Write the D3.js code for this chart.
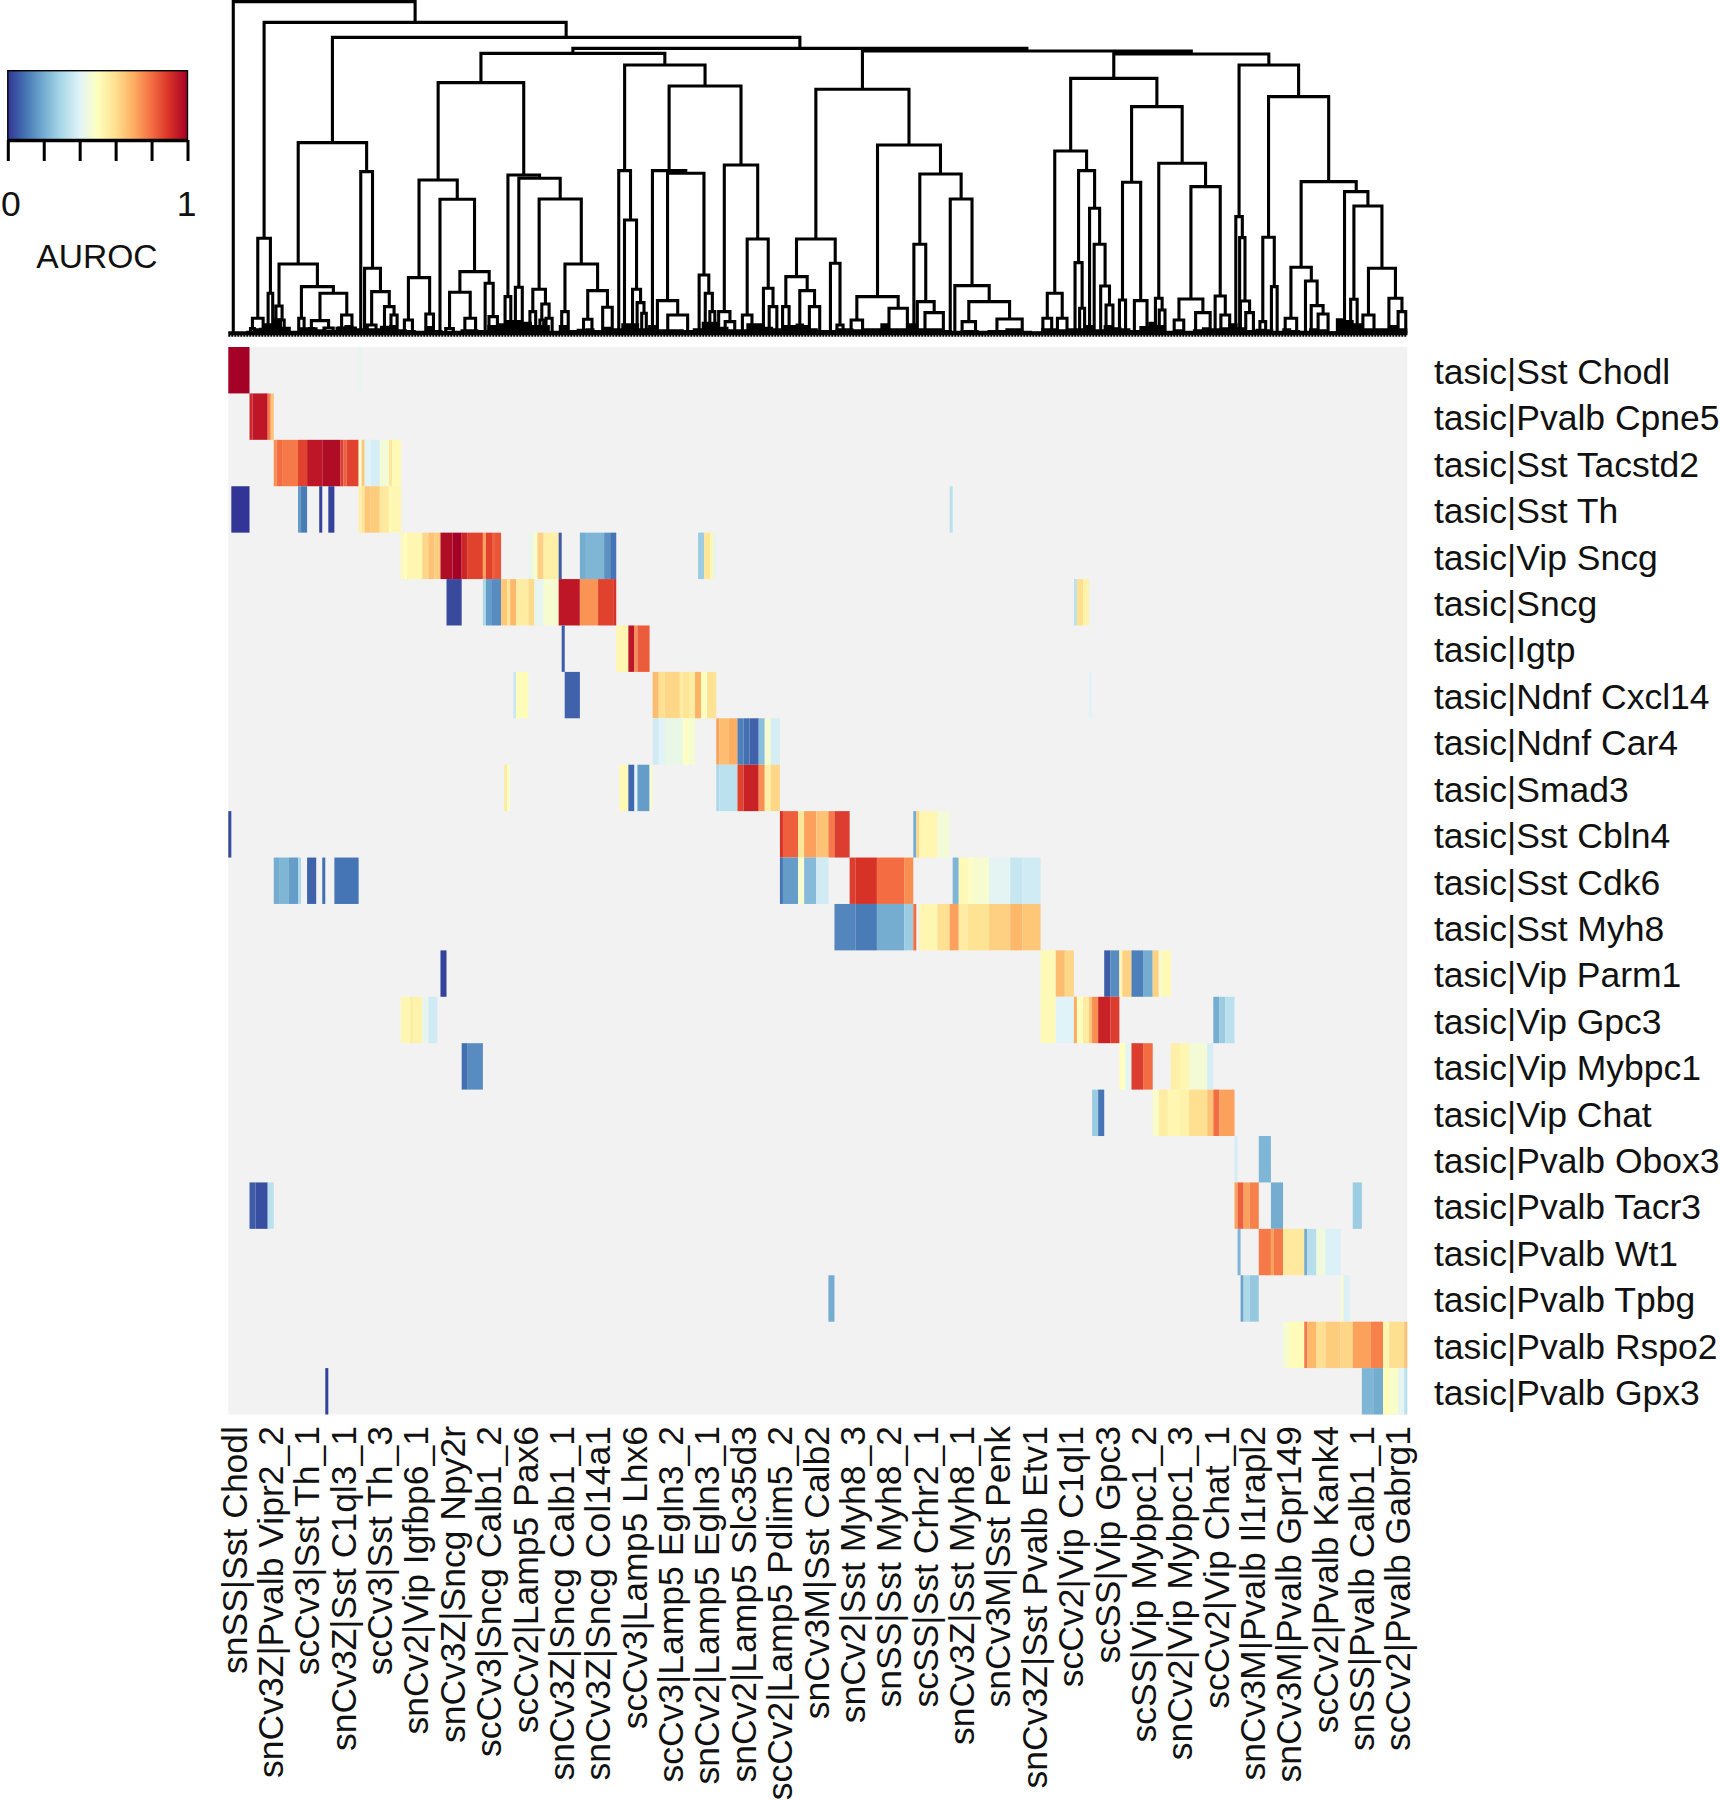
<!DOCTYPE html>
<html>
<head>
<meta charset="utf-8">
<script src="https://cdn.jsdelivr.net/npm/d3@7"></script>
<style>
  body { margin: 0; background: #fff; }
  text { font-family: "Liberation Sans", Arial, sans-serif; fill: #111; }
</style>
</head>
<body>
<svg id="chart" width="1720" height="1800"></svg>
<script>
// row and column names
const rowLabels = ["Sst Chodl","Pvalb Cpne5","Sst Tacstd2","Sst Th","Vip Sncg","Sncg","Igtp","Ndnf Cxcl14","Ndnf Car4","Smad3","Sst Cbln4","Sst Cdk6","Sst Myh8","Vip Parm1","Vip Gpc3","Vip Mybpc1","Vip Chat","Pvalb Obox3","Pvalb Tacr3","Pvalb Wt1","Pvalb Tpbg","Pvalb Rspo2","Pvalb Gpx3"].map(d => "tasic|" + d);
const colLabels = ["snSS|Sst Chodl","snCv3Z|Pvalb Vipr2_2","scCv3|Sst Th_1","snCv3Z|Sst C1ql3_1","scCv3|Sst Th_3","snCv2|Vip Igfbp6_1","snCv3Z|Sncg Npy2r","scCv3|Sncg Calb1_2","scCv2|Lamp5 Pax6","snCv3Z|Sncg Calb1_1","snCv3Z|Sncg Col14a1","scCv3|Lamp5 Lhx6","scCv3|Lamp5 Egln3_2","snCv2|Lamp5 Egln3_1","snCv2|Lamp5 Slc35d3","scCv2|Lamp5 Pdlim5_2","snCv3M|Sst Calb2","snCv2|Sst Myh8_3","snSS|Sst Myh8_2","scSS|Sst Crhr2_1","snCv3Z|Sst Myh8_1","snCv3M|Sst Penk","snCv3Z|Sst Pvalb Etv1","scCv2|Vip C1ql1","scSS|Vip Gpc3","scSS|Vip Mybpc1_2","snCv2|Vip Mybpc1_3","scCv2|Vip Chat_1","snCv3M|Pvalb Il1rapl2","snCv3M|Pvalb Gpr149","scCv2|Pvalb Kank4","snSS|Pvalb Calb1_1","scCv2|Pvalb Gabrg1"];
const colLabelPositions = [2,14,26,38,50,62,74,86,98,110,122,134,146,158,170,182,194,206,218,230,242,254,266,278,290,302,314,326,338,350,362,374,386];
const nCols = 389;

// AUROC stripes per row: [first column, end column, value], everything else is NA
const sstChodl = [[0,7,1],[43,44,.42]];
const pvalbCpne5 = [[7,8,.92],[8,13,.95],[13,14,.78],[14,15,.66]];
const sstTacstd2 = [[15,16,.75],[16,18,.8],[18,23,.78],[23,26,.87],[26,31,.95],[31,37,.98],[37,38,.88],[38,39,.82],[39,43,.87],[43,44,.47],[44,45,.65],[45,47,.4],[47,50,.38],[50,53,.46],[53,54,.58],[54,57,.52]];
const sstTh = [[1,7,0],[23,24,.17],[24,26,.11],[30,31,.02],[33,35,.02],[43,44,.55],[44,45,.58],[45,47,.65],[47,50,.64],[50,53,.57],[53,54,.52],[54,57,.53],[238,239,.33]];
const vipSncg = [[57,58,.52],[58,59,.5],[59,64,.53],[64,66,.62],[66,68,.66],[68,70,.64],[70,74,.98],[74,77,1],[77,79,.92],[79,84,.87],[84,85,.72],[85,87,.87],[87,88,.82],[88,90,.84],[99,100,.42],[100,101,.45],[101,102,.48],[102,104,.63],[104,109,.55],[109,110,.06],[116,118,.2],[118,124,.22],[124,126,.15],[126,128,.1],[155,157,.27],[157,159,.58],[159,160,.53],[160,161,.42]];
const sncg = [[72,77,.03],[84,85,.3],[85,87,.17],[87,90,.14],[90,92,.65],[92,93,.58],[93,95,.68],[95,99,.56],[99,101,.61],[101,104,.42],[104,109,.47],[109,116,.95],[116,122,.74],[122,127,.87],[127,128,.9],[279,280,.33],[280,282,.6],[282,284,.54]];
const igtp = [[110,111,.06],[128,132,.53],[132,134,.95],[134,135,.75],[135,139,.83]];
const ndnfCxcl14 = [[94,95,.36],[95,99,.51],[111,116,.07],[140,142,.67],[142,144,.6],[144,149,.62],[149,150,.56],[150,152,.58],[152,154,.56],[154,156,.69],[156,158,.5],[158,161,.59],[284,285,.4]];
const ndnfCar4 = [[140,142,.37],[142,144,.4],[144,150,.43],[150,152,.49],[152,154,.47],[161,162,.72],[162,165,.67],[165,168,.7],[168,170,.12],[170,172,.09],[172,175,.07],[175,177,.24],[177,179,.47],[179,182,.38]];
const smad3 = [[91,92,.56],[92,93,.48],[129,132,.52],[132,134,.08],[134,135,.4],[135,139,.17],[139,140,.47],[161,162,.3],[162,168,.33],[168,170,.87],[170,175,.93],[175,177,.75],[177,179,.55],[179,182,.62]];
const sstCbln4 = [[0,1,.03],[182,183,.9],[183,188,.82],[188,190,.58],[190,194,.72],[194,198,.66],[198,200,.78],[200,205,.88],[226,227,.2],[227,228,.62],[228,234,.53],[234,238,.46]];
const sstCdk6 = [[15,17,.2],[17,20,.22],[20,23,.17],[23,24,.3],[26,29,.07],[31,32,.09],[35,43,.1],[182,183,.1],[183,188,.17],[188,190,.47],[190,194,.23],[194,198,.37],[205,207,.88],[207,214,.9],[214,223,.8],[223,226,.75],[239,241,.22],[241,244,.52],[244,246,.49],[246,251,.47],[251,258,.41],[258,262,.35],[262,268,.37]];
const sstMyh8 = [[200,207,.13],[207,214,.11],[214,223,.2],[223,226,.27],[226,227,.8],[228,234,.53],[234,238,.6],[238,241,.72],[241,244,.56],[244,251,.59],[251,258,.63],[258,262,.68],[262,268,.65]];
const vipParm1 = [[70,72,.02],[268,273,.52],[273,276,.67],[276,279,.62],[289,291,.06],[291,294,.14],[294,295,.53],[295,298,.63],[298,302,.12],[302,305,.2],[305,307,.63],[307,308,.47],[308,311,.52]];
const vipGpc3 = [[57,60,.53],[60,61,.56],[61,64,.54],[64,66,.42],[66,69,.37],[268,273,.52],[273,279,.4],[279,280,.7],[280,282,.5],[282,284,.56],[284,285,.65],[285,287,.75],[287,291,.93],[291,294,.88],[325,327,.2],[327,329,.27],[329,332,.33]];
const vipMybpc1 = [[77,79,.09],[79,84,.14],[294,296,.5],[296,298,.41],[298,302,.88],[302,305,.8],[311,314,.55],[314,317,.53],[317,323,.46],[323,325,.38]];
const vipChat = [[285,287,.27],[287,289,.1],[305,307,.48],[307,310,.56],[310,314,.53],[314,317,.54],[317,323,.6],[323,325,.66],[325,327,.8],[327,332,.72]];
const pvalbObox3 = [[332,333,.38],[340,344,.22]];
const pvalbTacr3 = [[7,9,.06],[9,13,.04],[13,15,.33],[332,333,.72],[333,335,.82],[335,337,.72],[337,340,.77],[344,348,.2],[371,374,.27]];
const pvalbWt1 = [[333,334,.22],[340,344,.78],[344,345,.72],[345,348,.78],[348,355,.57],[355,356,.2],[356,359,.32],[359,362,.45],[362,367,.39]];
const pvalbTpbg = [[198,200,.2],[334,335,.18],[335,337,.3],[337,340,.26],[367,368,.47],[368,370,.39]];
const pvalbRspo2 = [[348,350,.47],[350,355,.51],[355,356,.78],[356,359,.68],[359,362,.6],[362,367,.64],[367,371,.62],[371,377,.72],[377,381,.77],[381,383,.53],[383,388,.6],[388,389,.66]];
const pvalbGpx3 = [[32,33,.02],[374,378,.22],[378,381,.2],[381,383,.51],[383,386,.48],[386,388,.42],[388,389,.33]];
const heatRows = [sstChodl,pvalbCpne5,sstTacstd2,sstTh,vipSncg,sncg,igtp,ndnfCxcl14,ndnfCar4,smad3,sstCbln4,sstCdk6,sstMyh8,vipParm1,vipGpc3,vipMybpc1,vipChat,pvalbObox3,pvalbTacr3,pvalbWt1,pvalbTpbg,pvalbRspo2,pvalbGpx3];

// dendrogram merges: [height, left, right], a bare number is a leaf position
const treeA = [285,[45,[14,80,90],[12,106,120]],[120,126,138]];
const treeB = [572,
  [208,[82,[30,143,150],[40,157,168]],[140,[45,206,220],[120,[38,[14,234,244],[16,272,296]],[55,[16,310,326],[16,336,354]]]]],
  [485,368,[195,378,[125,[25,385,408],[80,[18,422,438],[55,447,463]]]]]];
const treeC1 = [752,
  [460,[167,[40,482,503],[58,538,558]],[402,575,[185,[123,[14,590,610],[45,640,668]],[150,693,[50,703,725]]]]],
  [475,[110,745,760],[465,[138,772,790],[403,[132,[65,810,825],[88,[40,836,846],[45,852,868]]],[208,[65,893,910],[128,[42,950,972],[78,1000,1025]]]]]]];
const treeC2 = [805,
  [488,1042,[340,1057,[132,1078,[92,1090,[60,1102,1114]]]]],
  [742,
    [488,1130,[480,[98,1143,[55,1170,1222]],[175,1252,[120,1268,[65,1280,1293]]]]],
    [505,[65,1303,[35,1320,1345]],[283,[55,1365,1390],[135,1420,[80,1435,1455]]]]]];
const treeD = [732,
  [283,[170,[80,1470,1487],[128,[25,1508,1522],[80,1540,1567]]],[210,1595,[25,1612,1628]]],
  [565,[110,[40,1649,1679],[75,1748,1796]],[478,[267,1813,[95,1822,[62,1842,1890]]],[403,1908,[143,1920,[95,[35,1939,1974],[43,2030,2096]]]]]]];
const treeE = [765,
  [547,[120,[45,2150,2173],[45,2188,2213]],[488,[212,2234,[75,2246,2259]],[375,2272,[267,2284,[142,2301,[85,2315,2333]]]]]],
  [680,[453,[100,2350,2366],[98,2389,2422]],[510,[105,2444,[70,2454,2469]],[440,[103,[40,2493,2518],[62,2549,2587]],[112,2600,[55,2615,2638]]]]]];
const treeF = [805,
  [350,2654,[287,2664,[97,2666,[62,2680,2700]]]],
  [710,[288,[35,2717,2732],[140,2747,2762]],[455,[198,[45,2783,2813],[157,2836,[83,2851,[58,2869,2895]]]],[425,2938,[382,[102,2954,2971],[195,[55,2986,3015],[105,3054,[65,3078,3098]]]]]]]];
const treeRoot = [995,35,[933,treeA,[888,treeB,[855,[840,treeC1,treeC2],[847,treeD,[838,treeE,treeF]]]]]];

// height of the packed tiny merges along the foot of the tree, left to right
const footHeights = [3,3,8,15,30,45,20,8,18,18,12,10,20,25,15,15,15,20,25,12,10,8,22,10,6,8,12,12,10,25,30,40,40,35,25,25,8,25,10,14,15,10,20,15,
  30,30,15,25,12,12,12,10,15,35,35,20,12,12,30,30,20,15,25,25,25,15,10,10,15,15,12,15,15,30,15,15,30,15,15,15,10,8,10,10,8,10,10,
  15,15,8,5,15,15,12,15,15,25,12,25,18,15,10,22,35,25,8,12,8,12,18,15,18,30,18,10,14,12,8,15,10,8,15,12,6,45,40,30,15,15,15,25,15];

const legendTicks = [0,.2,.4,.6,.8,1];
const colorStops = d3.schemeRdYlBu[11].slice().reverse();

// General Variables
let chart = d3.select("#chart");
let heat = {left: 228.3, right: 1407.3, top: 347, bottom: 1414.5};

// colour scale, blue through yellow to red
let color = d3.scaleLinear()
    .domain(colorStops.map((d, i) => i / 10))
    .range(colorStops)
    .interpolate(d3.interpolateRgb);

// position scales
let x = d3.scaleLinear().domain([0, nCols]).range([heat.left, heat.right]);
let y = d3.scaleBand().domain(rowLabels).range([heat.top, heat.bottom]);

// the source is a slightly soft raster
let defs = chart.append("defs");
defs.append("filter")
    .attr("id", "soft")
    .attr("x", "-2%").attr("y", "-2%")
    .attr("width", "104%").attr("height", "104%")
    .append("feGaussianBlur")
    .attr("stdDeviation", "0.7 0.4");

// heatmap background (NA cells)
chart.append("rect")
    .attr("x", x(0))
    .attr("y", heat.top)
    .attr("width", x(nCols) - x(0))
    .attr("height", heat.bottom - heat.top)
    .attr("fill", "#f2f2f2");

// heatmap stripes
chart.append("g")
    .attr("filter", "url(#soft)")
    .selectAll(".heatrow")
    .data(heatRows)
    .enter()
    .append("g")
    .attr("class", "heatrow")
    .attr("transform", (d, i) => "translate(0," + y(rowLabels[i]) + ")")
    .selectAll("rect")
    .data(d => d)
    .enter()
    .append("rect")
    .attr("x", d => x(d[0]))
    .attr("width", d => x(d[1]) - x(d[0]))
    .attr("height", y.bandwidth())
    .attr("fill", d => color(d[2]));

// row labels
let rowAxis = d3.axisRight(y).tickSize(0).tickPadding(0);
let rowAxisGroup = chart.append("g")
    .attr("transform", "translate(1434,1)")
    .call(rowAxis);
rowAxisGroup.select(".domain").remove();
rowAxisGroup.selectAll("text")
    .style("font-size", "35.5px")
    .attr("x", 0)
    .attr("dy", "0.36em");

// column labels
let colAxis = d3.axisBottom(x)
    .tickValues(colLabelPositions)
    .tickSize(0)
    .tickFormat((d, i) => colLabels[i]);
let colAxisGroup = chart.append("g")
    .attr("transform", "translate(-1,1426)")
    .call(colAxis);
colAxisGroup.select(".domain").remove();
colAxisGroup.selectAll("text")
    .style("font-size", "35.5px")
    .attr("text-anchor", "end")
    .attr("transform", "rotate(-90)")
    .attr("x", 0)
    .attr("y", 0)
    .attr("dy", "0.36em");

// dendrogram, x of a merge is the midpoint of its two children
let treeX = d3.scaleLinear().domain([22, 3102]).range([heat.left, heat.right]);
let treeY = d3.scaleLinear().domain([0, 1000]).range([333.3, 0]);
let root = d3.hierarchy(treeRoot, d => Array.isArray(d) ? d.slice(1) : null);
root.eachAfter(function(n) {
    if (n.children) {
        n.pos = (n.children[0].pos + n.children[1].pos) / 2;
        n.h = n.data[0];
    } else {
        n.pos = n.data;
        n.h = 0;
    }
});

let treePath = d3.path();
root.each(function(n) {
    if (!n.children) return;
    let [a, b] = n.children;
    treePath.moveTo(treeX(a.pos), treeY(a.h));
    treePath.lineTo(treeX(a.pos), treeY(n.h));
    treePath.lineTo(treeX(b.pos), treeY(n.h));
    treePath.lineTo(treeX(b.pos), treeY(b.h));
});
chart.append("path")
    .attr("d", treePath.toString())
    .attr("fill", "none")
    .attr("stroke", "#000")
    .attr("stroke-width", 3.1)
    .attr("stroke-linecap", "square");

// packed tiny merges at the foot of the tree
let footX = d3.scaleLinear().domain([0, footHeights.length]).range([heat.left, heat.right]);
chart.append("path")
    .datum(footHeights.concat(footHeights[footHeights.length - 1]))
    .attr("d", d3.area()
        .x((d, i) => footX(i))
        .y0(treeY(0))
        .y1(d => treeY(d))
        .curve(d3.curveStepAfter))
    .attr("fill", "#000");

// baseline of the tree
chart.append("path")
    .attr("d", d3.line()([[heat.left, treeY(0)], [heat.right, treeY(0)]]))
    .attr("stroke", "#000")
    .attr("stroke-width", 4);
chart.append("path")
    .attr("d", d3.line()([[heat.left, treeY(0) + 2.5], [heat.right, treeY(0) + 2.5]]))
    .attr("stroke", "#000")
    .attr("stroke-width", 2)
    .attr("stroke-dasharray", "2 1");

// legend colour bar
let legendX = d3.scaleLinear().domain([0, 1]).range([7.8, 187.5]);
let gradient = defs.append("linearGradient").attr("id", "auroc");
gradient.selectAll("stop")
    .data(colorStops)
    .enter()
    .append("stop")
    .attr("offset", (d, i) => (i * 10) + "%")
    .attr("stop-color", d => d);
chart.append("rect")
    .attr("x", legendX(0))
    .attr("y", 70.7)
    .attr("width", legendX(1) - legendX(0))
    .attr("height", 69)
    .attr("fill", "url(#auroc)")
    .attr("stroke", "#000")
    .attr("stroke-width", 1.4);

let legendAxis = d3.axisBottom(legendX)
    .tickValues(legendTicks)
    .tickSize(21)
    .tickSizeOuter(0)
    .tickPadding(30)
    .tickFormat(d => (d === 0 || d === 1) ? d : "");
let legendGroup = chart.append("g")
    .attr("transform", "translate(0,140)")
    .call(legendAxis);
legendGroup.select(".domain").attr("stroke", "#000").attr("stroke-width", 3.5);
legendGroup.selectAll(".tick line").attr("stroke", "#000").attr("stroke-width", 3);
legendGroup.selectAll("text").style("font-size", "35.5px").attr("dx", d => d === 1 ? -1.5 : (d === 0 ? 2.6 : 0));

chart.append("text")
    .text("AUROC")
    .attr("x", 97)
    .attr("y", 268)
    .style("font-size", "33.6px")
    .style("text-anchor", "middle");
</script>
</body>
</html>
